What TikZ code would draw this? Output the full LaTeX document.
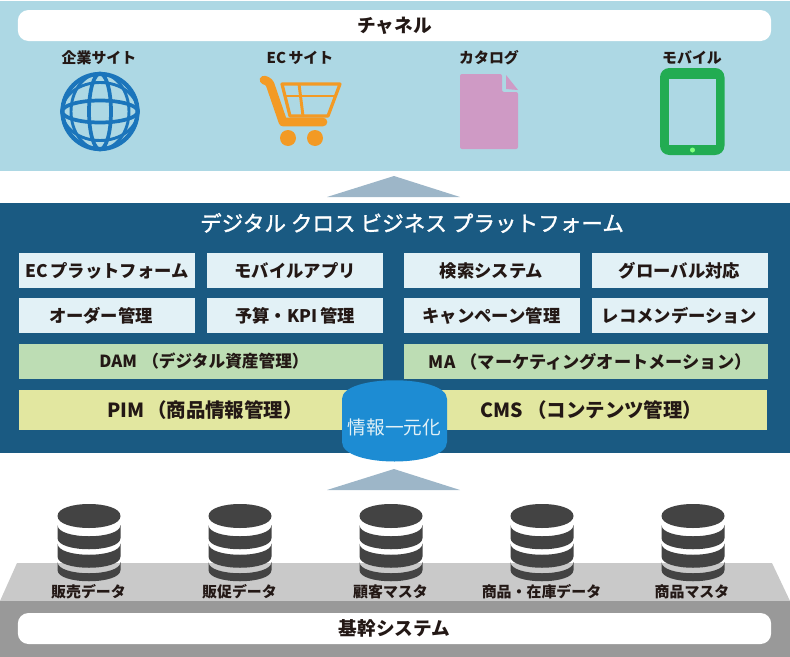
\documentclass[tikz,border=0pt]{standalone}
\usepackage{fontspec}
\setmainfont{Noto Sans CJK JP}
\newfontfamily\titlefont[FakeBold=1.5]{Noto Sans CJK JP}
\definecolor{panelsky}{HTML}{ADD8E4}
\definecolor{paneldeep}{HTML}{1A5A82}
\definecolor{arrowgray}{HTML}{9DB6C8}
\definecolor{boxpale}{HTML}{E2F1F6}
\definecolor{boxgreen}{HTML}{BDDDB4}
\definecolor{boxyellow}{HTML}{E2E7A0}
\definecolor{hubblue}{HTML}{1D8CD3}
\definecolor{globeblue}{HTML}{1B75BB}
\definecolor{cartorange}{HTML}{F39A24}
\definecolor{docpink}{HTML}{CF9AC5}
\definecolor{tabgreen}{HTML}{22AC52}
\definecolor{dbdark}{HTML}{434343}
\definecolor{inktext}{HTML}{231815}
\tikzset{
  bar/.style={rounded corners=8pt, fill=white, minimum width=565pt, minimum height=23.25pt, inner sep=0pt, text=inktext, font=\fontsize{14}{16}\selectfont\bfseries},
  iconlabel/.style={text=inktext, inner sep=0pt, font=\fontsize{11.2}{13}\selectfont\bfseries},
  smallbox/.style={fill=boxpale, minimum width=132pt, minimum height=26.25pt, inner sep=0pt, text=inktext, font=\fontsize{13}{15}\selectfont\bfseries},
  widebox/.style={fill=boxgreen, minimum width=273pt, minimum height=26.25pt, inner sep=0pt, text=inktext, font=\fontsize{12.5}{15}\selectfont\bfseries},
  bigtext/.style={text=inktext, inner sep=0pt, font=\fontsize{14.6}{17}\selectfont\bfseries},
  dbicon/.pic={
    \fill[dbdark] (-31.5,0) .. controls (-31.5,16) and (31.5,16) .. (31.5,0)
      .. controls (31.5,-16) and (-31.5,-16) .. (-31.5,0) -- cycle;
    \foreach \top/\side in {9/22, 27.5/40.5, 46/54}
      \fill[dbdark] (-31.5,\top) .. controls (-31.5,\top+15) and (31.5,\top+15) .. (31.5,\top)
        -- (31.5,\side) .. controls (31.5,\side+15) and (-31.5,\side+15) .. (-31.5,\side) -- cycle;
  }
}
\begin{document}
\begin{tikzpicture}[x=0.75pt, y=-0.75pt]
  \useasboundingbox (0,0) rectangle (790,657);

  % channel panel
  \fill[panelsky] (0,1) rectangle (790,171);
  \node[bar] (channel) at (394.5,25.5) {チャネル};
  \node[iconlabel] (site) at (99,58) {企業サイト};
  \node[iconlabel] (ecsite) at (300,58) {EC\,サイト};
  \node[iconlabel] (catalog) at (489,58) {カタログ};
  \node[iconlabel] (mobile) at (692,58) {モバイル};

  % globe
  \draw[globeblue, line width=3.2pt] (100,111.5) circle [radius=37.5];
  \draw[globeblue, line width=2.8pt] (100,111.5) ellipse [x radius=11, y radius=38];
  \draw[globeblue, line width=2.2pt] (100,111.5) ellipse [x radius=29, y radius=38];
  \draw[globeblue, line width=2.8pt] (100,111.5) ellipse [x radius=38, y radius=11];
  \draw[globeblue, line width=2.2pt] (100,111.5) ellipse [x radius=38, y radius=29];

  % cart
  \draw[cartorange, line width=2.4pt, line join=round] (282,84) -- (340,84) -- (328,116) -- (290,116) -- cycle;
  \draw[cartorange, line width=2.2pt] (286,96) -- (334,96);
  \draw[cartorange, line width=2.2pt] (299,84) -- (303,116);
  \draw[cartorange, line width=6.5pt, line cap=round, line join=round] (264,80) .. controls (268,81) and (270,83) .. (271,87) -- (283,122) -- (323,122);
  \fill[cartorange] (288,138) circle [radius=8];
  \fill[cartorange] (315,138) circle [radius=8];

  % document
  \fill[docpink, rounded corners=1.5pt] (460,74) -- (502,74) -- (502,92) -- (518,92) -- (518,149) -- (460,149) -- cycle;
  \fill[docpink] (506,75) -- (518,90) -- (506,89) -- cycle;

  % tablet
  \fill[tabgreen, rounded corners=7pt] (660,68) rectangle (724.5,155);
  \fill[panelsky] (669,79) rectangle (716,145);
  \fill[green!50!white] (692.5,150) circle [radius=2.5];

  \fill[arrowgray] (327,197) -- (394,176) -- (460,197) -- cycle;

  % platform panel
  \fill[paneldeep] (0,203) rectangle (790,453);
  \node[text=white, inner sep=0pt, font=\fontsize{16.2}{19}\selectfont\titlefont] (platform) at (412,223) {デジタル クロス ビジネス プラットフォーム};

  \node[smallbox] (ecplat) at (107,270.5) {EC\,プラットフォーム};
  \node[smallbox] (mobapp) at (295,270.5) {モバイルアプリ};
  \node[smallbox] (search) at (491.5,270.5) {検索システム};
  \node[smallbox] (glob) at (679.5,270.5) {グローバル対応};
  \node[smallbox] (order) at (107,315.5) {オーダー管理\hspace{9pt}\mbox{}};
  \node[smallbox] (budget) at (295,315.5) {予算・KPI\,管理};
  \node[smallbox] (campaign) at (491.5,315.5) {キャンペーン管理};
  \node[smallbox] (recom) at (679.5,315.5) {レコメンデーション};

  \node[widebox] (dam) at (201,361.5) {\hspace{4.5pt}DAM\hspace{4pt}（デジタル資産管理）};
  \node[widebox] (ma) at (585.5,361.5) {\fontsize{12.9}{15}\selectfont\hspace{7pt}MA\hspace{4pt}（マーケティングオートメーション）};

  \fill[boxyellow] (19,389.5) rectangle (767,430);
  \node[bigtext] (pim) at (205,410) {PIM\hspace{2pt}（商品情報管理）};
  \node[bigtext] (cms) at (591.5,410) {CMS\hspace{3pt}（コンテンツ管理）};

  % hub
  \fill[hubblue] (342,399) .. controls (342,374) and (447,374) .. (447,399)
    -- (447,442) .. controls (447,468) and (342,468) .. (342,442) -- cycle;
  \node[text=boxpale, inner sep=0pt, font=\fontsize{14}{17}\selectfont] (hub) at (394.5,427) {情報一元化};

  \fill[arrowgray] (327,490) -- (394,469) -- (460,490) -- cycle;

  % core systems
  \fill[black!21] (0,601) -- (17,563) -- (772,563) -- (790,601) -- cycle;
  \fill[black!40] (0,600.5) rectangle (790,656.5);
  \node[bar] (core) at (394.5,628.5) {基幹システム};

  \foreach \dbx in {89,240,391,542,693}
    \pic at (\dbx,516) {dbicon};

  \node[iconlabel] (sales) at (88.5,592) {販売データ};
  \node[iconlabel] (promo) at (239.5,592) {販促データ};
  \node[iconlabel] (customer) at (390.5,592) {顧客マスタ};
  \node[iconlabel] (stock) at (541.5,592) {商品・在庫データ};
  \node[iconlabel] (product) at (692,592) {商品マスタ};
\end{tikzpicture}
\end{document}
